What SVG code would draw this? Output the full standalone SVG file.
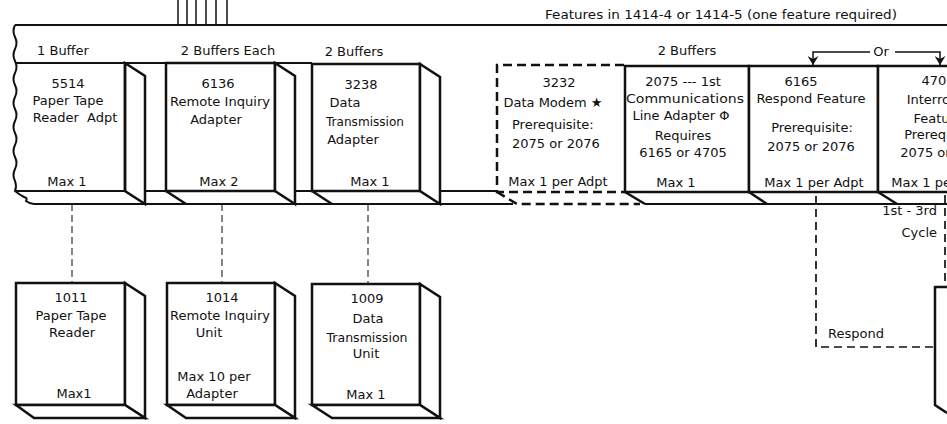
<svg xmlns="http://www.w3.org/2000/svg" width="947" height="424" viewBox="0 0 947 424">
<defs>
<style>
.t{font-family:"DejaVu Sans","Liberation Sans",sans-serif;font-size:13px;fill:#111;text-anchor:middle}
.s{text-anchor:start}
.e{text-anchor:end}
.box{fill:#fff;stroke:#111;stroke-width:2.5;stroke-linejoin:miter}
.ln{fill:none;stroke:#111;stroke-width:2.5}
.fr{fill:none;stroke:#111;stroke-width:2}
.thin{fill:none;stroke:#111;stroke-width:1.5}
.dbox{fill:none;stroke:#111;stroke-width:2.5;stroke-dasharray:9 5}
.conn{fill:none;stroke:#222;stroke-width:1.1;stroke-dasharray:7 4}
.dash2{fill:none;stroke:#111;stroke-width:1.7;stroke-dasharray:8 5}
.arr{fill:none;stroke:#111;stroke-width:1.5}
</style>
<marker id="ah" viewBox="0 0 9 11" refX="9" refY="5.5" markerWidth="9" markerHeight="11" markerUnits="userSpaceOnUse" orient="auto">
<path d="M0,0 L9,5.5 L0,11 L3,5.5 Z" fill="#111"/>
</marker>
</defs>
<rect width="947" height="424" fill="#fff"/>

<g id="frame">
<path class="thin" d="M178,0V25M187,0V25M196,0V25M206,0V25M216,0V25M227,0V25"/>
<path class="fr" d="M15,25H947"/>
<path class="fr" d="M15,25 Q12,31 15,37 T15,49 T15,61 T15,73 T15,85 T15,97 T15,109 T15,121 T15,133 T15,145 T15,157 T15,169 T15,181 Q17,186 15,191 Q20,195 24,197 Q28,198 26,201 Q30,204 34,204"/>
<path class="fr" d="M15,63H312"/>
<path class="fr" d="M15,191H497M624,192H947"/>
<path class="fr" d="M34,204H513M645,204H947"/>
</g>

<g id="labels">
<text class="t" x="63" y="55">1 Buffer</text>
<text class="t" x="228" y="55">2 Buffers Each</text>
<text class="t" x="354" y="56">2 Buffers</text>
<text class="t" x="687" y="55">2 Buffers</text>
<text class="t s" x="545" y="19" textLength="352" lengthAdjust="spacingAndGlyphs">Features in 1414-4 or 1414-5 (one feature required)</text>
</g>

<g id="n5514">
<path class="box" d="M125,63 L145,76 V204 L125,191 Z"/>
<path class="ln" d="M125,63V191"/>
<text class="t" x="68" y="88">5514</text>
<text class="t" x="68" y="105">Paper Tape</text>
<text class="t" x="75" y="122" xml:space="preserve">Reader  Adpt</text>
<text class="t" x="67" y="186">Max 1</text>
</g>

<g id="n6136">
<rect class="box" x="166" y="63" width="109" height="128"/>
<path class="box" d="M275,63 L295,76 V204 L275,191 Z"/>
<path class="ln" d="M166,191 L186,204"/>
<text class="t" x="218" y="88">6136</text>
<text class="t" x="220" y="106" textLength="100" lengthAdjust="spacingAndGlyphs">Remote Inquiry</text>
<text class="t" x="216" y="124">Adapter</text>
<text class="t" x="219" y="186">Max 2</text>
</g>

<g id="n3238">
<rect class="box" x="312" y="64" width="108" height="127"/>
<path class="box" d="M420,64 L440,77 V204 L420,191 Z"/>
<path class="ln" d="M312,191 L332,204"/>
<text class="t" x="361" y="89">3238</text>
<text class="t" x="345" y="107">Data</text>
<text class="t" x="365" y="126" textLength="78" lengthAdjust="spacingAndGlyphs">Transmission</text>
<text class="t" x="353" y="144">Adapter</text>
<text class="t" x="370" y="186">Max 1</text>
</g>

<g id="n3232">
<path class="dbox" d="M624,65 H497 V192 H624"/>
<path class="dbox" d="M497,192 L517,204 H640"/>
<text class="t" x="559" y="87">3232</text>
<text class="t" x="553" y="107">Data Modem ★</text>
<text class="t s" x="512" y="129">Prerequisite:</text>
<text class="t s" x="512" y="148">2075 or 2076</text>
<text class="t" x="558" y="186">Max 1 per Adpt</text>
</g>

<g id="n2075">
<rect class="box" x="625" y="66" width="124" height="126"/>
<path class="ln" d="M625,192 L645,204"/>
<text class="t" x="683" y="86">2075 --- 1st</text>
<text class="t" x="685" y="103" textLength="118" lengthAdjust="spacingAndGlyphs">Communications</text>
<text class="t" x="681" y="120">Line Adapter Φ</text>
<text class="t" x="683" y="140">Requires</text>
<text class="t" x="683" y="157">6165 or 4705</text>
<text class="t" x="676" y="187">Max 1</text>
</g>

<g id="n6165">
<rect class="box" x="749" y="66" width="129" height="126"/>
<path class="ln" d="M749,192 L767,204"/>
<text class="t" x="801" y="86">6165</text>
<text class="t" x="811" y="103">Respond Feature</text>
<text class="t" x="812" y="132">Prerequisite:</text>
<text class="t" x="811" y="151">2075 or 2076</text>
<text class="t" x="814" y="187">Max 1 per Adpt</text>
</g>

<g id="n4705">
<rect class="box" x="878" y="66" width="90" height="126"/>
<path class="ln" d="M878,192 L897,204"/>
<text class="t" x="938" y="85">4705</text>
<text class="t" x="943" y="104">Interrogate</text>
<text class="t" x="938" y="123">Feature</text>
<text class="t" x="945" y="139">Prerequisite:</text>
<text class="t" x="944" y="157">2075 or 2076</text>
<text class="t" x="941" y="187">Max 1 per Adpt</text>
</g>

<g id="n1011">
<rect class="box" x="16" y="283" width="109" height="122"/>
<path class="box" d="M125,283 L145,296 V418 L125,405 Z"/>
<path class="box" d="M16,405 H125 L145,418 H34 Z"/>
<text class="t" x="71" y="302">1011</text>
<text class="t" x="71" y="320">Paper Tape</text>
<text class="t" x="72" y="337">Reader</text>
<text class="t" x="74" y="398">Max1</text>
</g>

<g id="n1014">
<rect class="box" x="167" y="283" width="108" height="122"/>
<path class="box" d="M275,283 L295,296 V418 L275,405 Z"/>
<path class="box" d="M167,405 H275 L295,418 H186 Z"/>
<text class="t" x="222" y="302">1014</text>
<text class="t" x="220" y="320" textLength="100" lengthAdjust="spacingAndGlyphs">Remote Inquiry</text>
<text class="t" x="209" y="337">Unit</text>
<text class="t" x="214" y="381">Max 10 per</text>
<text class="t" x="212" y="398">Adapter</text>
</g>

<g id="n1009">
<rect class="box" x="312" y="284" width="108" height="121"/>
<path class="box" d="M420,284 L440,297 V418 L420,405 Z"/>
<path class="box" d="M312,405 H420 L440,418 H332 Z"/>
<text class="t" x="367" y="303">1009</text>
<text class="t" x="368" y="323">Data</text>
<text class="t" x="367" y="342" textLength="81" lengthAdjust="spacingAndGlyphs">Transmission</text>
<text class="t" x="366" y="358">Unit</text>
<text class="t" x="366" y="399">Max 1</text>
</g>

<g id="nUnit">
<path class="ln" d="M947,287 H935 V405 L947,413"/>
</g>

<g id="connectors">
<path class="conn" d="M72,204 V283"/>
<path class="conn" d="M222,204 V283"/>
<path class="conn" d="M368,204 V284"/>
<path class="arr" d="M870,52 H813 V65" marker-end="url(#ah)"/>
<path class="arr" d="M895,52 H940 V65" marker-end="url(#ah)"/>
<text class="t" x="881" y="56">Or</text>
<path class="dash2" d="M816,196 V347 H935"/>
<path class="dash2" d="M945,195 V287"/>
<text class="t e" x="937" y="215">1st - 3rd</text>
<text class="t e" x="937" y="237">Cycle</text>
<text class="t s" x="828" y="338">Respond</text>
</g>
</svg>
